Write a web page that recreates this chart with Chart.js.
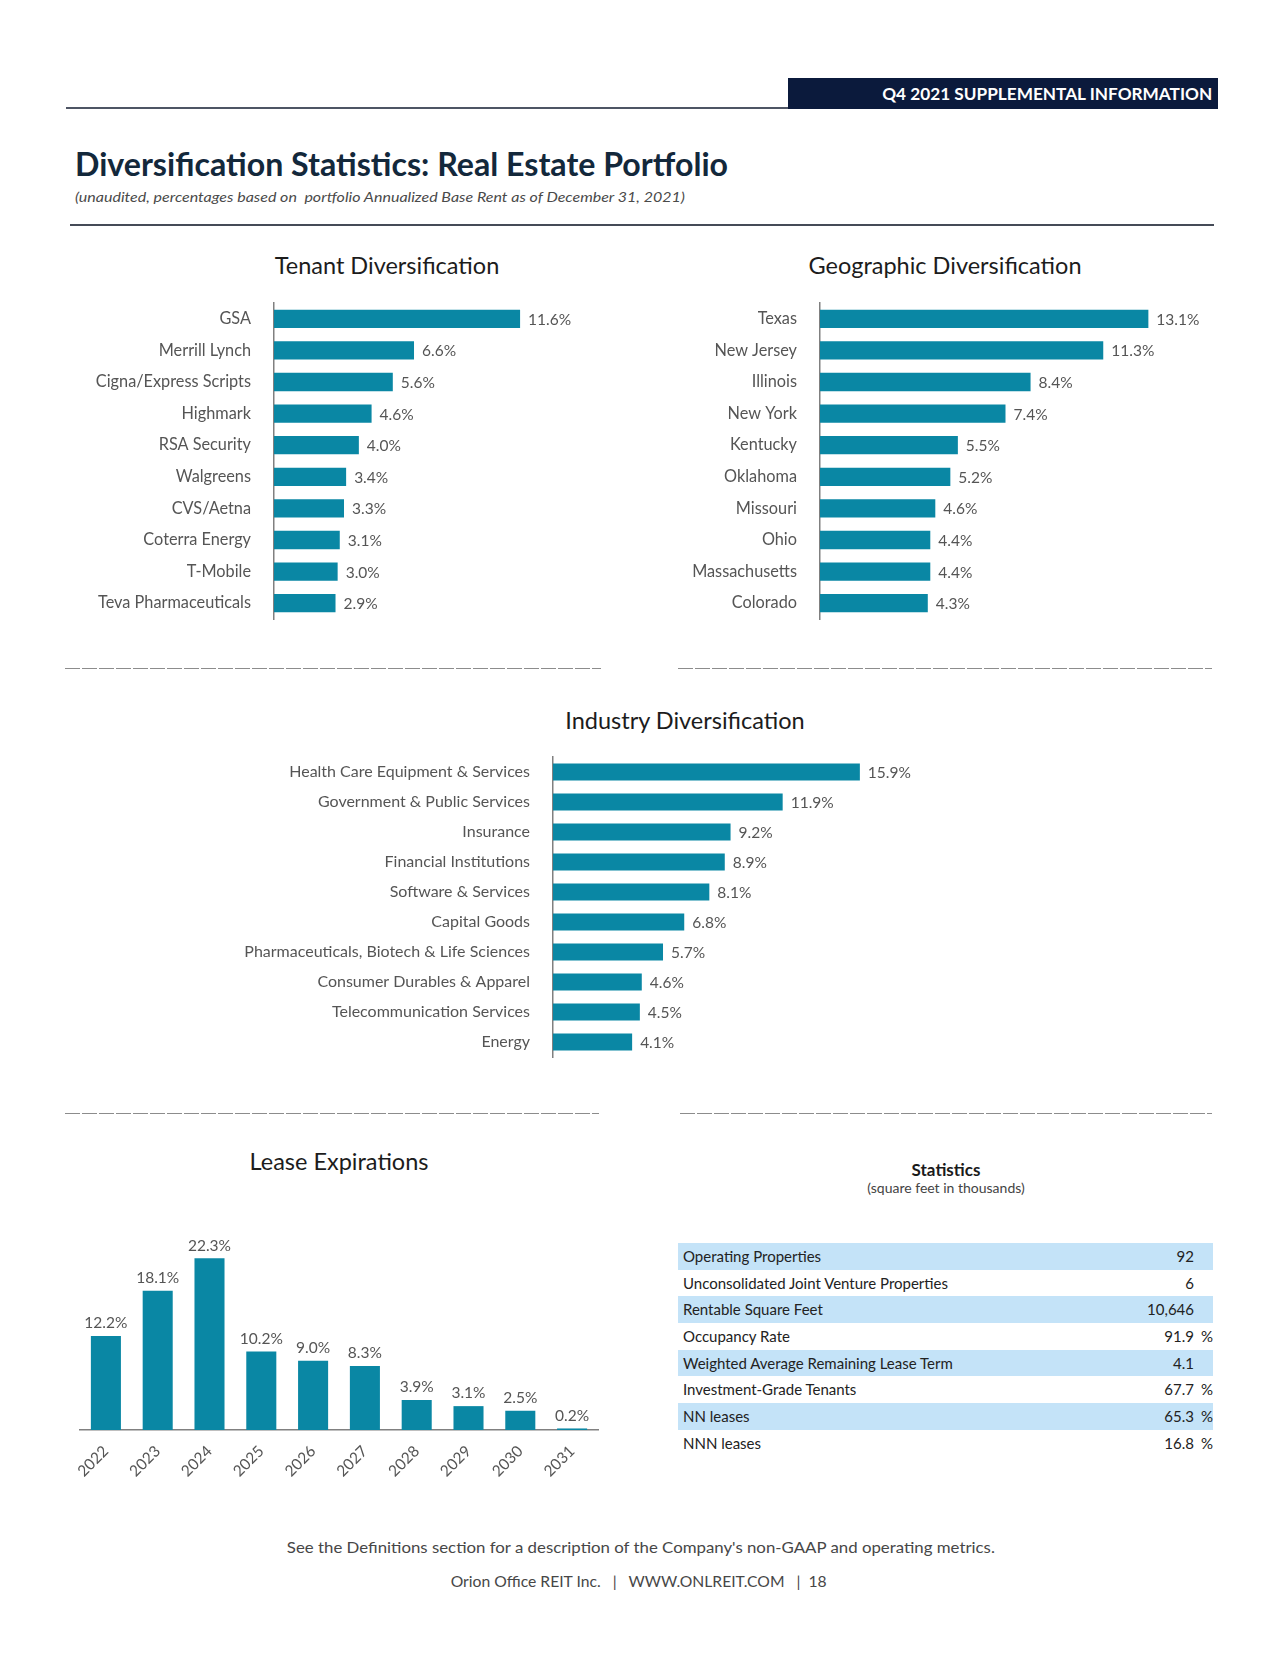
<!DOCTYPE html>
<html>
<head>
<meta charset="utf-8">
<title>Diversification Statistics</title>
<script src="https://cdn.jsdelivr.net/npm/chart.js@4.4.1/dist/chart.umd.min.js"></script>
<style>
body { margin: 0; background: #fff; font-family: Lato, "Open Sans", sans-serif; }
#page { position: relative; width: 1280px; height: 1656px; overflow: hidden; }
.abs { position: absolute; white-space: nowrap; }
.fit { display: inline-block; white-space: nowrap; }
.ctitle { position: absolute; width: 400px; text-align: center; font-size: 23.5px; line-height: 28px; color: #1c1c1c; }
.dash { position: absolute; height: 1px; background: repeating-linear-gradient(90deg, #8c8c8c 0 15px, transparent 15px 17px); }
canvas { position: absolute; }
#stats { position: absolute; left: 678px; top: 1243px; width: 535px; font-size: 15px; color: #222; }
#stats .row { display: flex; height: 26.7px; line-height: 26.7px; }
#stats .row:nth-child(odd) { background: #c4e3f8; }
#stats .lbl { flex: 1; padding-left: 5px; }
#stats .val { text-align: right; }
#stats .unit { width: 19px; text-align: right; }
</style>
</head>
<body>
<div id="page">
  <!-- header -->
  <div class="abs" style="left:66px;top:107px;width:722px;height:2px;background:#4e5564;"></div>
  <div class="abs" style="left:788px;top:78px;width:430px;height:31px;background:#0b1a3c;"></div>
  <div class="abs" style="left:788px;top:78px;width:424px;height:31px;line-height:31px;text-align:right;color:#fff;font-size:17px;font-weight:bold;">
    <span class="fit" id="hdr" style="transform-origin:right center;">Q4 2021 SUPPLEMENTAL INFORMATION</span>
  </div>

  <div class="abs" style="left:75px;top:146px;line-height:36px;font-size:32px;font-weight:bold;color:#13283b;">
    <span class="fit" id="ttl" style="transform-origin:left center;">Diversification Statistics: Real Estate Portfolio</span>
  </div>
  <div class="abs" style="left:75px;top:187px;line-height:20px;font-size:14px;font-style:italic;color:#4a4a4a;">
    <span class="fit" id="sub" style="transform-origin:left center;">(unaudited, percentages based on&nbsp; portfolio Annualized Base Rent as of December 31, 2021)</span>
  </div>
  <div class="abs" style="left:70px;top:224px;width:1144px;height:2px;background:#454b57;"></div>

  <!-- chart titles -->
  <div class="ctitle" style="left:187px;top:251px;">Tenant Diversification</div>
  <div class="ctitle" style="left:745px;top:251px;">Geographic Diversification</div>
  <div class="ctitle" style="left:485px;top:706px;">Industry Diversification</div>
  <div class="ctitle" style="left:139px;top:1147px;">Lease Expirations</div>

  <canvas id="tenantChart" width="566" height="340" style="left:65px;top:290px;"></canvas>
  <canvas id="geoChart" width="586" height="340" style="left:660px;top:290px;"></canvas>
  <canvas id="industryChart" width="779" height="325" style="left:220px;top:745px;"></canvas>
  <canvas id="leaseChart" width="560" height="305" style="left:60px;top:1185px;"></canvas>

  <div class="dash" style="left:65px;top:668px;width:536px;"></div>
  <div class="dash" style="left:678px;top:668px;width:534px;"></div>
  <div class="dash" style="left:65px;top:1113px;width:534px;"></div>
  <div class="dash" style="left:680px;top:1113px;width:532px;"></div>

  <!-- statistics -->
  <div class="abs" style="left:746px;top:1159px;width:400px;text-align:center;font-size:17px;font-weight:bold;line-height:22px;color:#1a1a1a;">Statistics</div>
  <div class="abs" style="left:746px;top:1179px;width:400px;text-align:center;font-size:14px;line-height:18px;color:#444;">(square feet in thousands)</div>
  <div id="stats"></div>

  <!-- footer -->
  <div class="abs" style="left:0;top:1536px;width:1282px;text-align:center;font-size:16px;line-height:22px;color:#474747;">
    <span class="fit" id="foot1" style="transform-origin:center center;">See the Definitions section for a description of the Company's non-GAAP and operating metrics.</span>
  </div>
  <div class="abs" style="left:0;top:1570px;width:1278px;text-align:center;font-size:16px;line-height:22px;color:#474747;">
    <span class="fit" id="foot2" style="transform-origin:center center;">Orion Office REIT Inc. &nbsp;&nbsp;|&nbsp;&nbsp; WWW.ONLREIT.COM &nbsp;&nbsp;|&nbsp; 18</span>
  </div>
</div>

<script>
// Tenant diversification (% of annualized base rent)
const tenantNames = ['GSA', 'Merrill Lynch', 'Cigna/Express Scripts', 'Highmark', 'RSA Security',
  'Walgreens', 'CVS/Aetna', 'Coterra Energy', 'T-Mobile', 'Teva Pharmaceuticals'];
const tenantShares = [11.6, 6.6, 5.6, 4.6, 4.0, 3.4, 3.3, 3.1, 3.0, 2.9];

// Geographic diversification
const stateNames = ['Texas', 'New Jersey', 'Illinois', 'New York', 'Kentucky',
  'Oklahoma', 'Missouri', 'Ohio', 'Massachusetts', 'Colorado'];
const stateShares = [13.1, 11.3, 8.4, 7.4, 5.5, 5.2, 4.6, 4.4, 4.4, 4.3];

// Industry diversification
const industryNames = ['Health Care Equipment & Services', 'Government & Public Services', 'Insurance',
  'Financial Institutions', 'Software & Services', 'Capital Goods',
  'Pharmaceuticals, Biotech & Life Sciences', 'Consumer Durables & Apparel',
  'Telecommunication Services', 'Energy'];
const industryShares = [15.9, 11.9, 9.2, 8.9, 8.1, 6.8, 5.7, 4.6, 4.5, 4.1];

// Lease expirations by year
const leaseYears = ['2022', '2023', '2024', '2025', '2026', '2027', '2028', '2029', '2030', '2031'];
const leaseShares = [12.2, 18.1, 22.3, 10.2, 9.0, 8.3, 3.9, 3.1, 2.5, 0.2];

// Statistics table
const statLabels = ['Operating Properties', 'Unconsolidated Joint Venture Properties', 'Rentable Square Feet',
  'Occupancy Rate', 'Weighted Average Remaining Lease Term', 'Investment-Grade Tenants', 'NN leases', 'NNN leases'];
const statValues = ['92', '6', '10,646', '91.9', '4.1', '67.7', '65.3', '16.8'];
const statUnits = ['', '', '', '%', '', '%', '%', '%'];

const TEAL = '#0a87a4';
const FONT = 'Lato';

// squeeze text to the width it has in the printed page
function squeeze(id, w) {
    const el = document.getElementById(id);
    el.style.transform = 'scaleX(' + (w / el.getBoundingClientRect().width) + ')';
}
squeeze('hdr', 330);
squeeze('ttl', 653);
squeeze('sub', 610);
squeeze('foot1', 708);
squeeze('foot2', 376);

// table
const stats = document.getElementById('stats');
statLabels.forEach(function(label, i) {
    const row = document.createElement('div');
    row.className = 'row';
    row.innerHTML = '<div class="lbl">' + label + '</div><div class="val">' + statValues[i] +
        '</div><div class="unit">' + statUnits[i] + '</div>';
    stats.appendChild(row);
});

// value labels at the end of each bar
const valueLabels = {
    id: 'valueLabels',
    afterDatasetsDraw(chart) {
        const ctx = chart.ctx;
        const values = chart.data.datasets[0].data;
        const horiz = chart.options.indexAxis === 'y';
        ctx.save();
        ctx.fillStyle = '#555';
        ctx.font = '15.5px ' + FONT;
        chart.getDatasetMeta(0).data.forEach(function(bar, i) {
            const txt = values[i].toFixed(1) + '%';
            if (horiz) {
                ctx.textAlign = 'left';
                ctx.textBaseline = 'middle';
                ctx.fillText(txt, bar.x + 8, bar.y + 1);
            } else {
                ctx.textAlign = 'center';
                ctx.textBaseline = 'bottom';
                ctx.fillText(txt, bar.x, bar.y - 5);
            }
        });
        ctx.restore();
    }
};

function hbar(id, labels, values, opts) {
    new Chart(document.getElementById(id), {
        type: 'bar',
        data: {
            labels: labels,
            datasets: [{
                data: values,
                backgroundColor: TEAL,
                barPercentage: opts.bar,
                categoryPercentage: 1
            }]
        },
        options: {
            indexAxis: 'y',
            responsive: false,
            animation: false,
            layout: { padding: opts.padding },
            plugins: { legend: { display: false }, tooltip: { enabled: false } },
            scales: {
                x: { display: false, min: 0, max: opts.max },
                y: {
                    grid: { display: false, drawTicks: false },
                    border: { display: true, color: '#808080', width: 1.5 },
                    ticks: { color: '#555', padding: 23, font: { family: FONT, size: opts.size } },
                    afterFit: function(scale) {
                        scale.width = opts.axisWidth;
                        scale.paddingTop = 0;
                        scale.paddingBottom = 0;
                    }
                }
            }
        },
        plugins: [valueLabels]
    });
}

hbar('tenantChart', tenantNames, tenantShares, {
    max: 14, axisWidth: 209, size: 16.3, bar: 0.58,
    padding: { top: 13, bottom: 11, left: 0, right: 60 }
});
hbar('geoChart', stateNames, stateShares, {
    max: 15, axisWidth: 160, size: 16.3, bar: 0.58,
    padding: { top: 13, bottom: 11, left: 0, right: 50 }
});
hbar('industryChart', industryNames, industryShares, {
    max: 20, axisWidth: 333, size: 16, bar: 0.57,
    padding: { top: 12, bottom: 13, left: 0, right: 60 }
});

// lease expirations
new Chart(document.getElementById('leaseChart'), {
    type: 'bar',
    data: {
        labels: leaseYears,
        datasets: [{
            data: leaseShares,
            backgroundColor: TEAL,
            barPercentage: 0.58,
            categoryPercentage: 1
        }]
    },
    options: {
        responsive: false,
        animation: false,
        layout: { padding: { top: 14, bottom: 0, left: 20, right: 22 } },
        plugins: { legend: { display: false }, tooltip: { enabled: false } },
        scales: {
            y: { display: false, min: 0, max: 30 },
            x: {
                grid: { display: false, drawTicks: false },
                border: { display: true, color: '#808080', width: 1.5 },
                ticks: { color: '#555', padding: 12, minRotation: 45, maxRotation: 45, font: { family: FONT, size: 15.5 } },
                afterFit: function(scale) {
                    scale.height = 60;
                    scale.paddingLeft = 0;
                    scale.paddingRight = 0;
                }
            }
        }
    },
    plugins: [valueLabels]
});
</script>
</body>
</html>
